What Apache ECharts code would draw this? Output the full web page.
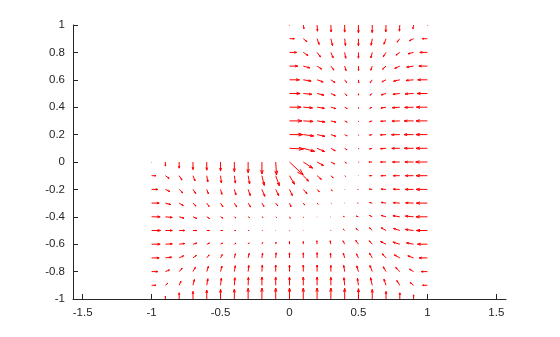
<!DOCTYPE html>
<html><head><meta charset="utf-8">
<script src="https://cdn.jsdelivr.net/npm/echarts@6/dist/echarts.min.js"></script>
<style>html,body{margin:0;padding:0;background:#fff}#c{width:560px;height:337px}</style>
</head><body><div id="c"></div>
<script>
const _ = null;
// grid columns (x) and rows (y)
const xs = [-1,-0.9,-0.8,-0.7,-0.6,-0.5,-0.4,-0.3,-0.2,-0.1,0,0.1,0.2,0.3,0.4,0.5,0.6,0.7,0.8,0.9,1];
const ys = [1,0.9,0.8,0.7,0.6,0.5,0.4,0.3,0.2,0.1,0,-0.1,-0.2,-0.3,-0.4,-0.5,-0.6,-0.7,-0.8,-0.9,-1];
const xTickLabels = [-1.5,-1,-0.5,0,0.5,1,1.5];
const yTickLabels = [-1,-0.8,-0.6,-0.4,-0.2,0,0.2,0.4,0.6,0.8,1];
// vector components, in units of grid spacing (0.1)
const U = [
[_,_,_,_,_,_,_,_,_,_, 0,.05,.03,.02,0,0,0,-.02,-.03,-.05,0],
[_,_,_,_,_,_,_,_,_,_, .35,.27,.15,.12,.06,0,-.08,-.15,-.2,-.3,-.37],
[_,_,_,_,_,_,_,_,_,_, .52,.34,.25,.17,.08,0,-.1,-.2,-.28,-.4,-.55],
[_,_,_,_,_,_,_,_,_,_, .6,.47,.33,.22,.1,.01,-.1,-.25,-.37,-.5,-.62],
[_,_,_,_,_,_,_,_,_,_, .72,.57,.44,.3,.15,.02,-.15,-.3,-.45,-.55,-.7],
[_,_,_,_,_,_,_,_,_,_, .77,.62,.5,.32,.16,.01,-.17,-.35,-.5,-.62,-.75],
[_,_,_,_,_,_,_,_,_,_, .84,.67,.53,.35,.18,.01,-.18,-.37,-.55,-.65,-.8],
[_,_,_,_,_,_,_,_,_,_, .9,.71,.57,.36,.18,.01,-.2,-.39,-.57,-.68,-.82],
[_,_,_,_,_,_,_,_,_,_, .96,.76,.57,.35,.18,.01,-.2,-.41,-.6,-.7,-.83],
[_,_,_,_,_,_,_,_,_,_, 1.02,.82,.55,.32,.17,.03,-.2,-.4,-.58,-.68,-.82],
[0,0,0,0,0,0,0,0,0,.06, 1.0,.68,.47,.27,.12,.04,-.24,-.4,-.53,-.63,-.85],
[.32,.27,.2,.15,.08,.06,.08,.11,.17,.27, .36,.38,.31,.17,.07,.02,-.2,-.37,-.48,-.6,-.82],
[.45,.32,.25,.2,.12,.1,.12,.16,.21,.22, .21,.27,.16,.1,.02,-.05,-.21,-.36,-.48,-.6,-.82],
[.55,.38,.3,.22,.17,.17,.17,.17,.15,.15, .11,.1,.08,.03,-.02,-.06,-.2,-.36,-.48,-.58,-.8],
[.62,.5,.35,.28,.2,.17,.12,.1,.08,.06, .05,.02,0,-.02,-.1,-.15,-.2,-.35,-.5,-.6,-.83],
[.65,.5,.4,.28,.2,.15,.1,.07,.04,.02, .02,.01,0,-.03,-.1,-.18,-.2,-.35,-.46,-.6,-.8],
[.62,.5,.4,.28,.2,.15,.12,.08,.05,.03, 0,0,-.02,-.05,-.12,-.2,-.22,-.4,-.5,-.52,-.72],
[.55,.45,.32,.25,.17,.12,.08,.07,.05,.03, 0,0,0,-.03,-.1,-.15,-.2,-.27,-.4,-.42,-.6],
[.45,.3,.22,.18,.12,.1,.07,.05,.03,0, 0,0,0,0,-.07,-.12,-.17,-.2,-.3,-.3,-.45],
[.32,.17,.13,.1,.08,.06,.04,.02,0,0, 0,0,0,0,-.05,-.07,-.12,-.15,-.22,-.25,-.35],
[0,0,0,0,0,0,0,0,0,0, 0,0,0,0,0,0,0,0,0,0,0]
];
const V = [
[_,_,_,_,_,_,_,_,_,_, -.03,-.28,-.45,-.5,-.52,-.57,-.55,-.5,-.45,-.28,-.03],
[_,_,_,_,_,_,_,_,_,_, 0,-.22,-.42,-.5,-.5,-.52,-.48,-.4,-.25,-.15,0],
[_,_,_,_,_,_,_,_,_,_, 0,-.22,-.33,-.4,-.43,-.42,-.4,-.32,-.2,-.1,0],
[_,_,_,_,_,_,_,_,_,_, 0,-.13,-.22,-.29,-.33,-.32,-.3,-.23,-.17,-.08,0],
[_,_,_,_,_,_,_,_,_,_, 0,-.09,-.16,-.2,-.22,-.22,-.22,-.15,-.1,-.05,0],
[_,_,_,_,_,_,_,_,_,_, 0,-.06,-.12,-.15,-.15,-.12,-.12,-.1,-.06,-.03,0],
[_,_,_,_,_,_,_,_,_,_, 0,-.05,-.08,-.1,-.1,-.08,-.08,-.06,-.04,-.02,0],
[_,_,_,_,_,_,_,_,_,_, 0,-.04,-.08,-.09,-.09,-.06,-.06,-.03,-.02,0,0],
[_,_,_,_,_,_,_,_,_,_, 0,-.1,-.13,-.12,-.09,-.05,-.04,-.02,-.01,0,0],
[_,_,_,_,_,_,_,_,_,_, -.05,-.22,-.24,-.18,-.11,-.06,-.05,-.03,-.01,0,0],
[-.02,-.3,-.45,-.55,-.6,-.65,-.71,-.78,-.88,-.95, -.95,-.45,-.26,-.14,-.08,-.03,0,0,0,0,0],
[0,-.2,-.32,-.38,-.45,-.52,-.54,-.6,-.71,-.75, -.62,-.4,-.27,-.15,-.05,.01,0,0,0,0,0],
[0,-.15,-.25,-.3,-.33,-.36,-.4,-.46,-.51,-.46, -.46,-.31,-.17,-.09,-.02,0,.02,.02,.01,0,0],
[0,-.1,-.18,-.22,-.25,-.27,-.28,-.28,-.25,-.2, -.27,-.14,-.08,-.03,0,.01,.04,.05,.03,.02,0],
[0,-.05,-.1,-.12,-.12,-.1,-.08,-.05,-.05,-.05, -.11,-.05,-.02,0,.03,.05,.1,.1,.08,.05,0],
[0,0,0,0,0,0,0,0,0,0, -.04,-.02,0,.03,.1,.15,.2,.2,.15,.08,0],
[0,.03,.05,.08,.08,.08,.08,.1,.12,.15, .2,.2,.25,.25,.25,.28,.25,.2,.15,.1,0],
[0,.05,.15,.18,.22,.25,.3,.32,.35,.37, .37,.37,.38,.35,.35,.3,.35,.3,.22,.15,0],
[0,.12,.25,.32,.38,.4,.43,.45,.47,.48, .48,.48,.48,.45,.45,.42,.45,.35,.3,.18,0],
[0,.15,.3,.42,.48,.52,.55,.58,.6,.6, .6,.6,.6,.58,.55,.5,.55,.45,.35,.2,0],
[.02,.2,.45,.55,.65,.7,.72,.78,.8,.8, .8,.8,.8,.8,.78,.75,.7,.55,.45,.3,.02]
];

const data = [];
for (let i = 0; i < ys.length; i++) {
  for (let j = 0; j < xs.length; j++) {
    if (U[i][j] === null) continue;
    data.push([xs[j], ys[i], U[i][j], V[i][j]]);
  }
}
const S = 0.1; // grid spacing
const RED = '#ff0000';
function renderItem(params, api) {
  const x = api.value(0), y = api.value(1), u = api.value(2), v = api.value(3);
  const p0 = api.coord([x, y]);
  const p1 = api.coord([x + u * S, y + v * S]);
  const dx = p1[0] - p0[0], dy = p1[1] - p0[1];
  const a = 0.33, b = 0.33;
  const h1 = [p1[0] - a * (dx + b * dy), p1[1] - a * (dy - b * dx)];
  const h2 = [p1[0] - a * (dx - b * dy), p1[1] - a * (dy + b * dx)];
  return {
    type: 'group',
    children: [
      { type: 'line', shape: { x1: p0[0], y1: p0[1], x2: p1[0], y2: p1[1] },
        style: { stroke: RED, lineWidth: 1 } },
      { type: 'polyline', shape: { points: [h1, p1, h2] },
        style: { stroke: RED, lineWidth: 1, fill: null } }
    ]
  };
}
const AX = '#262626';
const chart = echarts.init(document.getElementById('c'), null, { renderer: 'canvas' });
chart.setOption({
  animation: false,
  grid: { left: 73, right: 54, top: 25, bottom: 38 },
  xAxis: {
    type: 'value', min: -1.57, max: 1.57,
    axisLine: { show: true, onZero: false, lineStyle: { color: AX, width: 1 } },
    axisTick: { show: true, inside: true, length: 5, customValues: xTickLabels, lineStyle: { color: AX } },
    axisLabel: { customValues: xTickLabels, color: AX, fontSize: 11.5, fontFamily: 'Liberation Sans, Arial, sans-serif', margin: 8 },
    splitLine: { show: false }
  },
  yAxis: {
    type: 'value', min: -1, max: 1, interval: 0.2,
    axisLine: { show: true, onZero: false, lineStyle: { color: AX, width: 1 } },
    axisTick: { show: true, inside: true, length: 5, customValues: yTickLabels, lineStyle: { color: AX } },
    axisLabel: { customValues: yTickLabels, color: AX, fontSize: 11.5, fontFamily: 'Liberation Sans, Arial, sans-serif', margin: 8 },
    splitLine: { show: false }
  },
  series: [{
    type: 'custom',
    coordinateSystem: 'cartesian2d',
    dimensions: ['x', 'y', 'u', 'v'],
    encode: { x: 0, y: 1 },
    renderItem: renderItem,
    data: data,
    silent: true,
    clip: false
  }]
});
</script>
</body></html>
